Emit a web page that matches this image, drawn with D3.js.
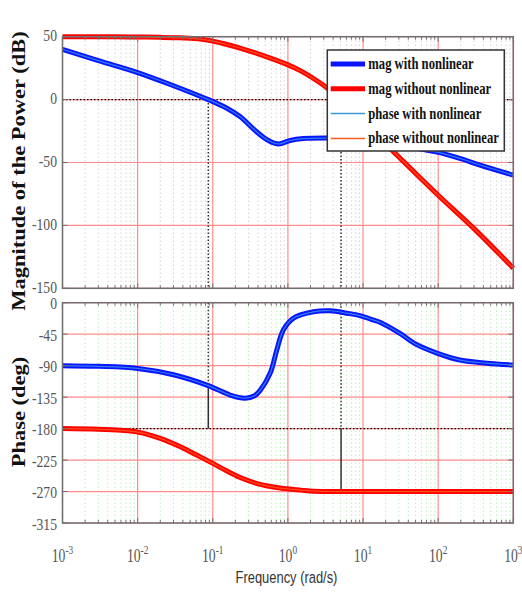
<!DOCTYPE html>
<html><head><meta charset="utf-8">
<script src="https://cdn.jsdelivr.net/npm/d3@7"></script>
<style>body{margin:0;background:#fff}svg{display:block}</style>
</head><body>
<svg id="chart" width="522" height="593"></svg>
<script>
// ---------- data ----------
const magBlueFreq = [0.001,0.003,0.01,0.03,0.087,0.15,0.23,0.39,0.55,0.75,1.07,1.6,3.3,6,10,20,40,100,200,360,1000];
const magBlue     = [40,31,21.5,11,0,-6.5,-13.5,-26,-32.5,-35.3,-32.5,-31,-30.6,-31,-32,-34,-37.5,-42,-47,-52,-60];
const magRedFreq  = [0.001,0.005,0.01,0.02,0.037,0.06,0.1,0.15,0.23,0.47,0.97,1.46,2.43,3.47,5.1,10,25,100,293,1000];
const magRed      = [50,49.9,49.8,49.5,49.1,48.5,46.5,44,41,35,28,23,15,8.5,0,-17.5,-41,-76,-102,-134];
const phBlueFreq  = [0.001,0.003,0.01,0.03,0.087,0.17,0.27,0.36,0.43,0.58,0.71,0.87,1.19,2.19,3.65,6.1,9.1,13.8,16.8,31,52,96,195,442,1000];
const phBlue      = [-90,-91,-94,-103,-118.5,-132,-136.5,-133,-125,-101,-68,-39,-22,-13,-11.5,-15,-18.5,-25,-28,-44,-60,-72,-82,-86.5,-89];
const phRedFreq   = [0.001,0.003,0.006,0.01,0.02,0.037,0.06,0.093,0.15,0.232,0.4,0.79,1.5,2.2,5,20,1000];
const phRed       = [-180,-181,-182.5,-185,-194,-206,-217.5,-228,-240,-250,-259,-265,-268,-269.5,-270,-270,-270];
const freqTicks   = [1e-3,1e-2,1e-1,1e0,1e1,1e2,1e3];
const freqExp     = ["-3","-2","-1","0","1","2","3"];
const magTicks    = [50,0,-50,-100,-150];
const phaseTicks  = [0,-45,-90,-135,-180,-225,-270,-315];
const markerFreq  = [0.087,5.1];
const markerPhase = [-118.5,-270];
const legendLabels = ["mag with nonlinear","mag without nonlinear","phase with nonlinear","phase without nonlinear"];

// ---------- layout ----------
const svg = d3.select("#chart");
const X0 = 62.5, X1 = 513.3;
const x = d3.scaleLog().domain([1e-3,1e3]).range([X0,X1]);
const yMag = d3.scaleLinear().domain([-150,50]).range([288.3,36.7]);
const yPh  = d3.scaleLinear().domain([-315,0]).range([523,302.7]);
const SX = 0.78;

const minorF = [];
for (let e=-3;e<3;e++) for (let k=2;k<=9;k++) minorF.push(k*Math.pow(10,e));

function panel(y, ticks, minorColor) {
  const g = svg.append("g");
  const [yb, yt] = y.range();
  g.selectAll(".mn").data(minorF).join("line")
    .attr("x1",d=>x(d)).attr("x2",d=>x(d)).attr("y1",yt).attr("y2",yb)
    .attr("stroke",minorColor).attr("stroke-width",1).attr("stroke-dasharray","1,3");
  g.selectAll(".mj").data(freqTicks).join("line")
    .attr("x1",d=>x(d)).attr("x2",d=>x(d)).attr("y1",yt).attr("y2",yb)
    .attr("stroke","#ff8c8c").attr("stroke-width",1.2);
  g.selectAll(".hz").data(ticks).join("line")
    .attr("x1",X0).attr("x2",X1).attr("y1",d=>y(d)).attr("y2",d=>y(d))
    .attr("stroke","#ff8c8c").attr("stroke-width",1.2);
  return g;
}
function frame(y, ticks, labOffset) {
  const g = svg.append("g");
  const [yb, yt] = y.range();
  g.append("rect").attr("x",X0).attr("y",yt).attr("width",X1-X0).attr("height",yb-yt)
    .attr("fill","none").attr("stroke","#707070").attr("stroke-width",1.5);
  const all = freqTicks.map(f=>({f,l:5})).concat(minorF.map(f=>({f,l:3})));
  g.selectAll(".tb").data(all).join("line")
    .attr("x1",d=>x(d.f)).attr("x2",d=>x(d.f)).attr("y1",yb).attr("y2",d=>yb-d.l)
    .attr("stroke","#707070");
  g.selectAll(".tt").data(all).join("line")
    .attr("x1",d=>x(d.f)).attr("x2",d=>x(d.f)).attr("y1",yt).attr("y2",d=>yt+d.l)
    .attr("stroke","#707070");
  g.selectAll(".tl").data(ticks).join("line")
    .attr("x1",X0).attr("x2",X0+5).attr("y1",d=>y(d)).attr("y2",d=>y(d)).attr("stroke","#707070");
  g.selectAll(".tr").data(ticks).join("line")
    .attr("x1",X1).attr("x2",X1-5).attr("y1",d=>y(d)).attr("y2",d=>y(d)).attr("stroke","#707070");
  g.selectAll(".lab").data(ticks).join("text")
    .attr("transform",d=>`translate(57,${y(d)+labOffset}) scale(${SX},1)`)
    .attr("text-anchor","end").attr("dominant-baseline","middle")
    .attr("font-family","Liberation Serif").attr("font-size",17.5).attr("fill","#555")
    .text(d=>d);
}

// ---------- magnitude panel ----------
panel(yMag, magTicks, "#bdbdbd");
svg.append("line").attr("x1",X0).attr("x2",X1).attr("y1",yMag(0)).attr("y2",yMag(0))
  .attr("stroke","#000").attr("stroke-width",1.2).attr("stroke-dasharray","1.5,2");
svg.selectAll(".mkm").data(markerFreq).join("line")
  .attr("x1",d=>x(d)).attr("x2",d=>x(d)).attr("y1",yMag(0)).attr("y2",yMag(-150))
  .attr("stroke","#000").attr("stroke-width",1.2).attr("stroke-dasharray","1.5,2");

// ---------- phase panel ----------
panel(yPh, phaseTicks, "#9de89d");
svg.append("line").attr("x1",X0).attr("x2",X1).attr("y1",yPh(-180)).attr("y2",yPh(-180))
  .attr("stroke","#000").attr("stroke-width",1.2).attr("stroke-dasharray","1.5,2");
markerFreq.forEach((f,i)=>{
  const pv = markerPhase[i];
  const top = Math.max(pv,-180), bot = Math.min(pv,-180);
  svg.append("line").attr("x1",x(f)).attr("x2",x(f)).attr("y1",yPh(0)).attr("y2",yPh(top))
    .attr("stroke","#000").attr("stroke-width",1.2).attr("stroke-dasharray","1.5,2");
  svg.append("line").attr("x1",x(f)).attr("x2",x(f)).attr("y1",yPh(top)).attr("y2",yPh(bot))
    .attr("stroke","#000").attr("stroke-width",1.2);
});

// ---------- curves ----------
function curve(fr, vals, y, thick, thin) {
  const pts = fr.map((f,i)=>[f,vals[i]]);
  const line = d3.line().x(d=>x(d[0])).y(d=>y(d[1])).curve(d3.curveCatmullRom.alpha(0.5));
  svg.append("path").attr("d",line(pts)).attr("fill","none").attr("stroke",thick)
    .attr("stroke-width",5).attr("stroke-linejoin","round");
  svg.append("path").attr("d",line(pts)).attr("fill","none").attr("stroke",thin)
    .attr("stroke-width",1.2);
}
curve(magBlueFreq, magBlue, yMag, "#0a14ff", "#2f7fe8");
curve(magRedFreq, magRed, yMag, "#ff0000", "#ff4a1a");
curve(phBlueFreq, phBlue, yPh, "#0a14ff", "#2f7fe8");
curve(phRedFreq, phRed, yPh, "#ff0000", "#ff4a1a");

frame(yMag, magTicks, 0.5);
frame(yPh, phaseTicks, 2.5);

// x tick labels
const xl = svg.selectAll(".xl").data(freqTicks).join("text")
  .attr("transform",d=>`translate(${x(d)},561.5) scale(0.72,1)`)
  .attr("text-anchor","middle").attr("font-family","Liberation Serif")
  .attr("font-size",19).attr("fill","#555");
xl.append("tspan").text("10");
xl.append("tspan").attr("dy",-8).attr("font-size",13).text((d,i)=>freqExp[i]);

// axis titles
svg.append("text").attr("transform",`translate(286.5,583) scale(0.76,1)`)
  .attr("text-anchor","middle").attr("font-family","Liberation Sans").attr("font-size",17)
  .attr("fill","#333").text("Frequency  (rad/s)");
svg.append("text").attr("transform",`translate(25,171) scale(0.85,1) rotate(-90)`)
  .attr("text-anchor","middle").attr("font-family","Liberation Serif").attr("font-weight","bold")
  .attr("font-size",22.5).attr("fill","#111").text("Magnitude  of the Power (dB)");
svg.append("text").attr("transform",`translate(25,412) scale(0.85,1) rotate(-90)`)
  .attr("text-anchor","middle").attr("font-family","Liberation Serif").attr("font-weight","bold")
  .attr("font-size",22.5).attr("fill","#111").text("Phase (deg)");

// legend
const lg = svg.append("g");
lg.append("rect").attr("x",327.3).attr("y",50).attr("width",177).attr("height",101)
  .attr("fill","#fff").attr("stroke","#333").attr("stroke-width",1.5);
const lStyles = [["#0a14ff",5],["#ff0000",5],["#3a9ad9",1.5],["#ff5a1f",1.5]];
const rows = lg.selectAll(".row").data(legendLabels).join("g")
  .attr("transform",(d,i)=>`translate(0,${64+i*24.8})`);
rows.append("line").attr("x1",330.7).attr("x2",365).attr("y1",0).attr("y2",0)
  .attr("stroke",(d,i)=>lStyles[i][0]).attr("stroke-width",(d,i)=>lStyles[i][1]);
rows.append("text").attr("transform",`translate(368.3,5) scale(0.79,1)`)
  .attr("font-family","Liberation Serif").attr("font-weight","bold").attr("font-size",16)
  .attr("fill","#111").text(d=>d);
</script>
</body></html>
